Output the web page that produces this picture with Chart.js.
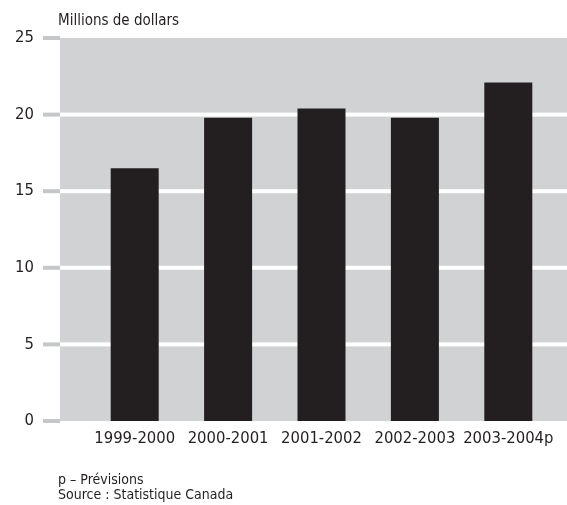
<!DOCTYPE html>
<html lang="fr">
<head>
<meta charset="utf-8">
<script src="https://cdn.jsdelivr.net/npm/chart.js@4/dist/chart.umd.min.js"></script>
<style>
  html, body { margin: 0; padding: 0; background: #ffffff; }
  #wrap { width: 567px; height: 505px; position: relative; }
</style>
</head>
<body>
<div id="wrap"><canvas id="c" width="567" height="505"></canvas></div>
<script>
// Exercices financiers et montants (millions de dollars)
const categories = ['1999-2000', '2000-2001', '2001-2002', '2002-2003', '2003-2004p'];
const values = [16.5, 19.8, 20.4, 19.8, 22.1];
const yTicks = [0, 5, 10, 15, 20, 25];
const unitLabel = 'Millions de dollars';
const notes = ['p – Prévisions', 'Source : Statistique Canada'];

const FONT = "'Liberation Sans Narrow', 'DejaVu Sans Condensed', 'Open Sans', sans-serif";
const TEXT = '#231f20';
const PANEL = '#d1d2d4';
const BAR = '#231f20';

// Grey panel, white guide lines, left tick dashes and value labels
const panelPlugin = {
  id: 'panel',
  beforeDatasetsDraw(chart) {
    const { ctx, chartArea, scales } = chart;
    const y = scales.y;
    const panelLeft = 60;
    ctx.save();
    ctx.fillStyle = PANEL;
    ctx.fillRect(panelLeft, chartArea.top, chart.width - panelLeft, chartArea.bottom - chartArea.top);
    ctx.font = '16.5px ' + FONT;
    ctx.textAlign = 'right';
    ctx.textBaseline = 'middle';
    yTicks.forEach(v => {
      const py = y.getPixelForValue(v);
      if (v !== yTicks[0] && v !== yTicks[yTicks.length - 1]) {
        ctx.fillStyle = '#ffffff';
        ctx.fillRect(panelLeft, py - 2, chart.width - panelLeft, 4);
      }
      ctx.fillStyle = '#c6c7c9';
      ctx.fillRect(43, py - 2, panelLeft - 43, 4);
      ctx.fillStyle = TEXT;
      ctx.fillText(String(v), 34, py);
    });
    ctx.restore();
  },
  afterDraw(chart) {
    const { ctx } = chart;
    ctx.save();
    ctx.fillStyle = TEXT;
    ctx.textBaseline = 'alphabetic';
    ctx.textAlign = 'left';
    ctx.font = '15px ' + FONT;
    ctx.fillText(unitLabel, 58, 25);
    ctx.font = '14px ' + FONT;
    ctx.fillText(notes[0], 58, 484);
    ctx.fillText(notes[1], 58, 499);
    ctx.restore();
  }
};

new Chart(document.getElementById('c'), {
  type: 'bar',
  data: {
    labels: categories,
    datasets: [{
      data: values,
      backgroundColor: BAR,
      borderWidth: 0,
      categoryPercentage: 1,
      barPercentage: 0.514
    }]
  },
  options: {
    responsive: false,
    animation: false,
    devicePixelRatio: 1,
    layout: { autoPadding: false, padding: { left: 0, right: 12, top: 38, bottom: 0 } },
    plugins: {
      legend: { display: false },
      tooltip: { enabled: false },
      title: { display: false }
    },
    scales: {
      x: {
        grid: { display: false },
        border: { display: false },
        ticks: {
          color: TEXT,
          font: { family: FONT, size: 16.5 },
          padding: 0,
          maxRotation: 0,
          autoSkip: false
        },
        afterFit(scale) { scale.height = 84; }
      },
      y: {
        min: 0,
        max: 25,
        grid: { display: false },
        border: { display: false },
        afterBuildTicks(scale) { scale.ticks = yTicks.map(v => ({ value: v })); },
        ticks: { display: false },
        afterFit(scale) { scale.width = 88; }
      }
    }
  },
  plugins: [panelPlugin]
});
</script>
</body>
</html>
